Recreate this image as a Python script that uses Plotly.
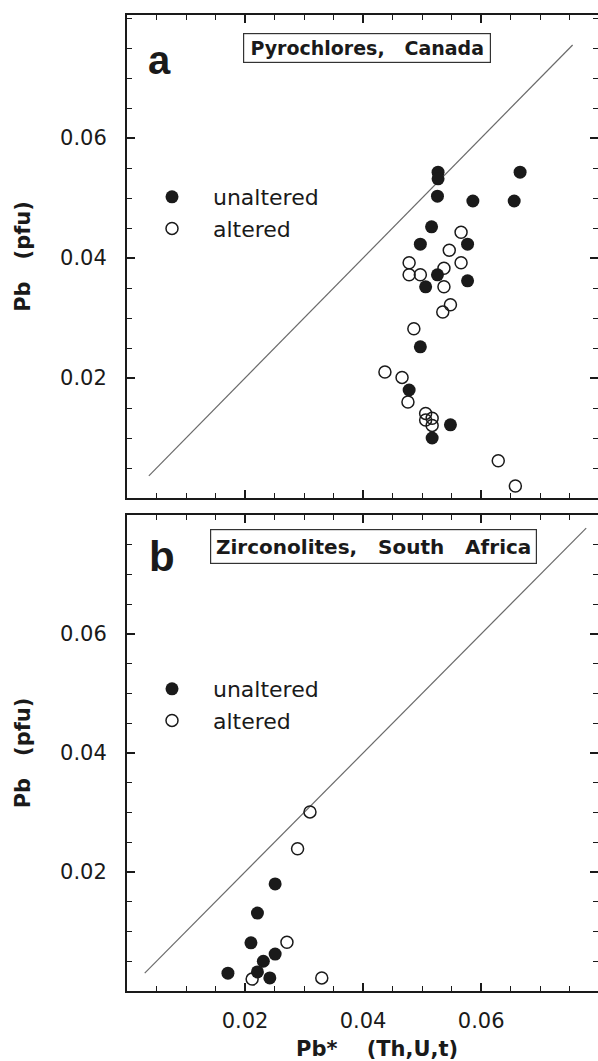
import plotly.graph_objects as go

# ---------------- data ----------------
# Panel a: Pyrochlores, Canada
A_UNALT_X = [0.0527, 0.0527, 0.0666, 0.0526, 0.0586, 0.0656, 0.0516, 0.0497, 0.0577,
             0.0526, 0.0506, 0.0577, 0.0497, 0.0478, 0.0548, 0.0517]
A_UNALT_Y = [0.0543, 0.0532, 0.0543, 0.0503, 0.0495, 0.0495, 0.0452, 0.0423, 0.0423,
             0.0372, 0.0352, 0.0362, 0.0252, 0.0180, 0.0122, 0.0100]
A_ALT_X = [0.0566, 0.0546, 0.0478, 0.0566, 0.0478, 0.0497, 0.0537, 0.0537, 0.0548,
           0.0535, 0.0486, 0.0437, 0.0466, 0.0476, 0.0506, 0.0506, 0.0517, 0.0517,
           0.0629, 0.0658]
A_ALT_Y = [0.0443, 0.0413, 0.0392, 0.0392, 0.0372, 0.0372, 0.0383, 0.0352, 0.0322,
           0.0310, 0.0282, 0.0210, 0.0201, 0.0160, 0.0141, 0.0130, 0.0133, 0.0121,
           0.0062, 0.0020]
A_LINE = [0.0037, 0.0755]

# Panel b: Zirconolites, South Africa
B_UNALT_X = [0.0251, 0.0221, 0.0210, 0.0251, 0.0231, 0.0221, 0.0171, 0.0242]
B_UNALT_Y = [0.0180, 0.0131, 0.0081, 0.0062, 0.0050, 0.0032, 0.0030, 0.0022]
B_ALT_X = [0.0310, 0.0289, 0.0271, 0.0212, 0.0330]
B_ALT_Y = [0.0301, 0.0239, 0.0082, 0.0020, 0.0022]
B_LINE = [0.0030, 0.0778]

SERIES = ["unaltered", "altered"]
TITLES = ["Pyrochlores,\u00a0\u00a0\u00a0Canada", "Zirconolites,\u00a0\u00a0\u00a0South\u00a0\u00a0\u00a0Africa"]
PANEL_LABELS = ["a", "b"]
Y_TITLE = "Pb\u00a0\u00a0\u00a0(pfu)"
X_TITLE = "\u200b\u00a0\u00a0\u00a0\u00a0Pb*\u00a0\u00a0\u00a0\u00a0(Th,U,t)"
TICK_VALS = [0.02, 0.04, 0.06]
TICK_TEXT = ["0.02", "0.04", "0.06"]

X_RANGE = [0.0, 0.0798]
YA_RANGE = [0.0, 0.0805]
YB_RANGE = [0.0, 0.0800]

# ---------------- style ----------------
INK = "#1a1a1a"
FONT = "DejaVu Sans"
W, H = 598, 1061
ML, MT, MB = 127, 15, 70
PH = H - MT - MB
def py2paper(py):
    return (H - MB - py) / PH

A_DOM = [py2paper(498), 1.0]
B_DOM = [0.0, py2paper(515)]

fig = go.Figure()

def add_panel(xa, ya, ux, uy, ax_, ay_, line, legend):
    fig.add_trace(go.Scatter(x=line, y=line, mode="lines", xaxis=xa, yaxis=ya,
                             line=dict(color="#6a6a6a", width=1.2), showlegend=False,
                             hoverinfo="skip"))
    fig.add_trace(go.Scatter(x=ax_, y=ay_, mode="markers", xaxis=xa, yaxis=ya,
                             name="\u00a0\u00a0\u00a0" + SERIES[1], legend=legend, legendrank=2,
                             marker=dict(symbol="circle-open", size=12, color=INK,
                                         line=dict(width=1.5, color=INK))))
    fig.add_trace(go.Scatter(x=ux, y=uy, mode="markers", xaxis=xa, yaxis=ya,
                             name="\u00a0\u00a0\u00a0" + SERIES[0], legend=legend, legendrank=1,
                             marker=dict(symbol="circle", size=13, color=INK,
                                         line=dict(width=0))))

add_panel("x", "y", A_UNALT_X, A_UNALT_Y, A_ALT_X, A_ALT_Y, A_LINE, "legend")
add_panel("x2", "y2", B_UNALT_X, B_UNALT_Y, B_ALT_X, B_ALT_Y, B_LINE, "legend2")
# empty traces so the mirrored tick axes are drawn
for xa, ya in [("x3", "y3"), ("x4", "y4")]:
    fig.add_trace(go.Scatter(x=[], y=[], xaxis=xa, yaxis=ya, showlegend=False))

tickfont = dict(family=FONT, size=21, color=INK)
titlefont = dict(family=FONT, size=21, color=INK, weight="bold")
minor = dict(tickmode="linear", tick0=0, dtick=0.005, ticks="inside", ticklen=5,
             tickwidth=1.3, tickcolor=INK)

def axis(rng, dom=None, **kw):
    d = dict(range=rng, tickmode="array", tickvals=TICK_VALS, ticktext=TICK_TEXT,
             ticks="inside", ticklen=8, tickwidth=1.5,
             tickcolor=INK, showgrid=False, zeroline=False, linecolor=INK, linewidth=2,
             tickfont=tickfont, minor=minor, fixedrange=True, automargin=False)
    if dom is not None:
        d["domain"] = dom
    d.update(kw)
    return d

fig.update_layout(
    width=W, height=H,
    margin=dict(l=ML, r=0, t=MT, b=MB),
    paper_bgcolor="white", plot_bgcolor="white",
    font=dict(family=FONT, color=INK),
    xaxis=axis(X_RANGE, [0, 1], anchor="y", showline=True, showticklabels=False),
    yaxis=axis(YA_RANGE, A_DOM, anchor="x", showline=True, showticklabels=True,
               ticklabelstandoff=14,
               title=dict(text=Y_TITLE, font=titlefont, standoff=24)),
    xaxis2=axis(X_RANGE, [0, 1], anchor="y2", showline=True, showticklabels=True,
                ticklabelstandoff=10,
                title=dict(text=X_TITLE, font=titlefont, standoff=14)),
    yaxis2=axis(YB_RANGE, B_DOM, anchor="x2", showline=True, showticklabels=True,
                ticklabelstandoff=14,
                title=dict(text=Y_TITLE, font=titlefont, standoff=24)),
    xaxis3=axis(X_RANGE, None, overlaying="x", anchor="y", side="top", showline=True,
                showticklabels=False),
    yaxis3=axis(YA_RANGE, None, overlaying="y", anchor="x", side="right", showline=False,
                showticklabels=False),
    xaxis4=axis(X_RANGE, None, overlaying="x2", anchor="y2", side="top", showline=True,
                showticklabels=False),
    yaxis4=axis(YB_RANGE, None, overlaying="y2", anchor="x2", side="right", showline=False,
                showticklabels=False),
    legend=dict(x=(152 - ML) / (W - ML), y=py2paper(176), xanchor="left", yanchor="top",
                font=dict(family=FONT, size=22, color=INK), bgcolor="rgba(0,0,0,0)",
                itemclick=False, itemdoubleclick=False),
    legend2=dict(x=(152 - ML) / (W - ML), y=py2paper(668), xanchor="left", yanchor="top",
                 font=dict(family=FONT, size=22, color=INK), bgcolor="rgba(0,0,0,0)",
                 itemclick=False, itemdoubleclick=False, tracegroupgap=0),
    showlegend=True,
)

# title boxes
fig.add_annotation(text=TITLES[0], xref="x domain", yref="y domain",
                   x=(367 - ML) / (W - ML), y=(498 - 48) / (498 - 15),
                   xanchor="center", yanchor="middle",
                   showarrow=False, font=dict(family=FONT, size=19, color=INK, weight="bold"),
                   width=246, height=28, borderpad=0, bordercolor="#333", borderwidth=1.2,
                   align="center", valign="middle")
fig.add_annotation(text=TITLES[1], xref="x2 domain", yref="y2 domain",
                   x=(373 - ML) / (W - ML), y=(991 - 546) / (991 - 515),
                   xanchor="center", yanchor="middle",
                   showarrow=False, font=dict(family=FONT, size=20, color=INK, weight="bold"),
                   width=325, height=33, borderpad=0, bordercolor="#333", borderwidth=1.2,
                   align="center", valign="middle")
# panel letters
fig.add_annotation(text=PANEL_LABELS[0], xref="x domain", yref="y domain",
                   x=(159 - ML) / (W - ML), y=(498 - 60) / (498 - 15), showarrow=False,
                   xanchor="center", yanchor="middle",
                   font=dict(family="Liberation Sans", size=40, color=INK, weight="bold"))
fig.add_annotation(text=PANEL_LABELS[1], xref="x2 domain", yref="y2 domain",
                   x=(162 - ML) / (W - ML), y=(991 - 556) / (991 - 515), showarrow=False,
                   xanchor="center", yanchor="middle",
                   font=dict(family="Liberation Sans", size=42, color=INK, weight="bold"))

fig.write_html("out.html", config={"displayModeBar": False},
               post_script="document.body.style.margin='0';document.body.style.overflow='hidden';")
